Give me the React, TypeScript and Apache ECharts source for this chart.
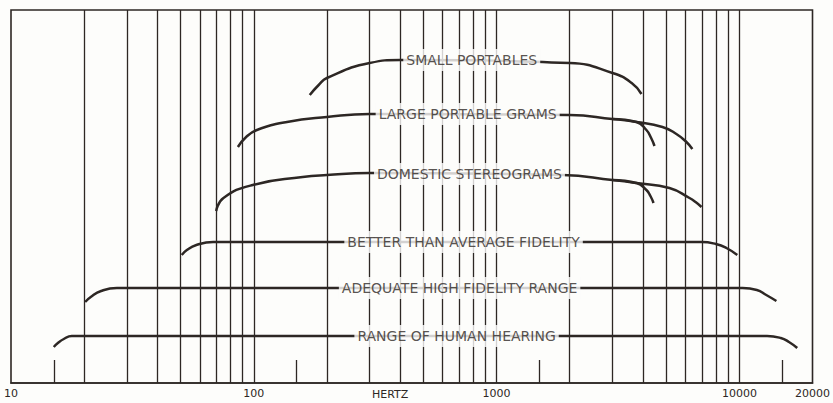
import React, { useEffect, useRef } from "react";
import * as echarts from "echarts";

const INK = "#2d2724";
const PAPER = "#fdfdfb";

// vertical grid line frequencies (Hz)
const gridFreqs = [20, 30, 40, 50, 60, 70, 80, 90, 100, 200, 300, 400, 500, 600, 700, 800, 900, 1000, 2000, 3000, 4000, 5000, 6000, 7000, 8000, 9000, 10000];
// short ticks at the bottom
const shortTicks = [15, 150, 1500, 15000];
const shortTickHeight = 23;
// tick labels
const tickLabels = [10, 100, 1000, 10000, 20000];

// ranges: [frequency Hz, vertical level]
const smallPortables = [[170, 288], [185, 298], [200, 305], [300, 320], [400, 323], [2000, 320], [3000, 310], [3600, 300], [3950, 289]];
const largePortableGrams = [[86, 236], [93, 246], [103, 253], [137, 261], [200, 266], [300, 269], [2000, 268], [3000, 264], [3770, 261], [4820, 256], [5500, 249], [6050, 241], [6400, 234]];
const largePortableGramsAlt = [[3000, 264], [3770, 261], [4140, 253], [4330, 245], [4470, 237]];
const domesticStereograms = [[70, 172], [75, 185], [99, 198], [159, 206], [200, 208], [300, 210], [1870, 208], [3000, 203], [3770, 200], [5150, 195], [6230, 185], [6600, 181], [6980, 176]];
const domesticStereogramsAlt = [[3000, 203], [3770, 200], [4140, 193], [4300, 187], [4430, 180]];
const betterThanAverage = [[50.5, 128], [53, 133], [58, 138], [68, 141], [7000, 141], [8000, 139], [8840, 135], [9800, 128]];
const adequateHiFi = [[20.2, 81], [21.3, 86], [23.5, 92], [27.3, 95], [10300, 95], [11800, 93], [12900, 88], [14200, 82]];
const humanHearing = [[15, 36], [15.6, 40], [16.5, 44], [17.8, 47], [13000, 47], [14800, 45], [16000, 41], [17300, 35]];

// label names and positions [freq, level]
const rangeLabels = [
  { name: "SMALL PORTABLES", value: [790, 323] },
  { name: "LARGE PORTABLE GRAMS", value: [760, 269] },
  { name: "DOMESTIC STEREOGRAMS", value: [773, 209] },
  { name: "BETTER THAN AVERAGE FIDELITY", value: [731, 141] },
  { name: "ADEQUATE HIGH FIDELITY RANGE", value: [704, 95] },
  { name: "RANGE OF HUMAN HEARING", value: [684, 47] },
];

const FONT = "DejaVu Sans";

function curve(data: number[][]) {
  return {
    type: "line",
    data,
    smooth: 0.5,
    showSymbol: false,
    symbol: "none",
    z: 5,
    silent: true,
    lineStyle: { color: INK, width: 2.5 },
  };
}

export default function App() {
  const ref = useRef<HTMLDivElement>(null);
  useEffect(() => {
    if (!ref.current) return;
    const chart = echarts.init(ref.current, undefined, { renderer: "svg" });
    const markData: any[] = gridFreqs.map((f) => ({ xAxis: f }));
    shortTicks.forEach((f) => {
      markData.push([{ coord: [f, 0] }, { coord: [f, shortTickHeight] }]);
    });
    chart.setOption({
      animation: false,
      backgroundColor: PAPER,
      grid: {
        left: 11,
        right: 18,
        top: 10,
        bottom: 20,
        show: true,
        borderColor: INK,
        borderWidth: 1.6,
        backgroundColor: "transparent",
      },
      xAxis: {
        type: "log",
        logBase: 10,
        min: 10,
        max: 20000,
        axisLine: { show: true, lineStyle: { color: INK, width: 1.6 } },
        axisTick: { show: false },
        splitLine: { show: false },
        minorTick: { show: false },
        axisLabel: {
          customValues: tickLabels,
          formatter: (v: number) => String(Math.round(v)),
          color: INK,
          fontFamily: FONT,
          fontSize: 11,
          margin: 5,
          showMinLabel: true,
          showMaxLabel: true,
        },
      },
      yAxis: {
        type: "value",
        min: 0,
        max: 373,
        show: false,
        splitLine: { show: false },
      },
      graphic: [
        {
          type: "text",
          left: 372,
          top: 389,
          style: { text: "HERTZ", fill: INK, font: `11px "${FONT}"` },
        },
      ],
      series: [
        {
          type: "line",
          data: [],
          z: 1,
          silent: true,
          markLine: {
            silent: true,
            animation: false,
            symbol: ["none", "none"],
            label: { show: false },
            emphasis: { disabled: true },
            lineStyle: { color: INK, width: 1.3, type: "solid" },
            data: markData,
          },
        },
        curve(smallPortables),
        curve(largePortableGrams),
        curve(largePortableGramsAlt),
        curve(domesticStereograms),
        curve(domesticStereogramsAlt),
        curve(betterThanAverage),
        curve(adequateHiFi),
        curve(humanHearing),
        {
          type: "scatter",
          data: rangeLabels,
          symbolSize: 0,
          z: 10,
          silent: true,
          label: {
            show: true,
            position: "inside",
            formatter: "{b}",
            color: INK,
            fontFamily: FONT,
            fontSize: 14,
            backgroundColor: PAPER,
            padding: [4, 3],
          },
        },
      ],
    });
    return () => chart.dispose();
  }, []);
  return (
    <div
      ref={ref}
      style={{ position: "fixed", left: 0, top: 0, width: 833, height: 403 }}
    />
  );
}
